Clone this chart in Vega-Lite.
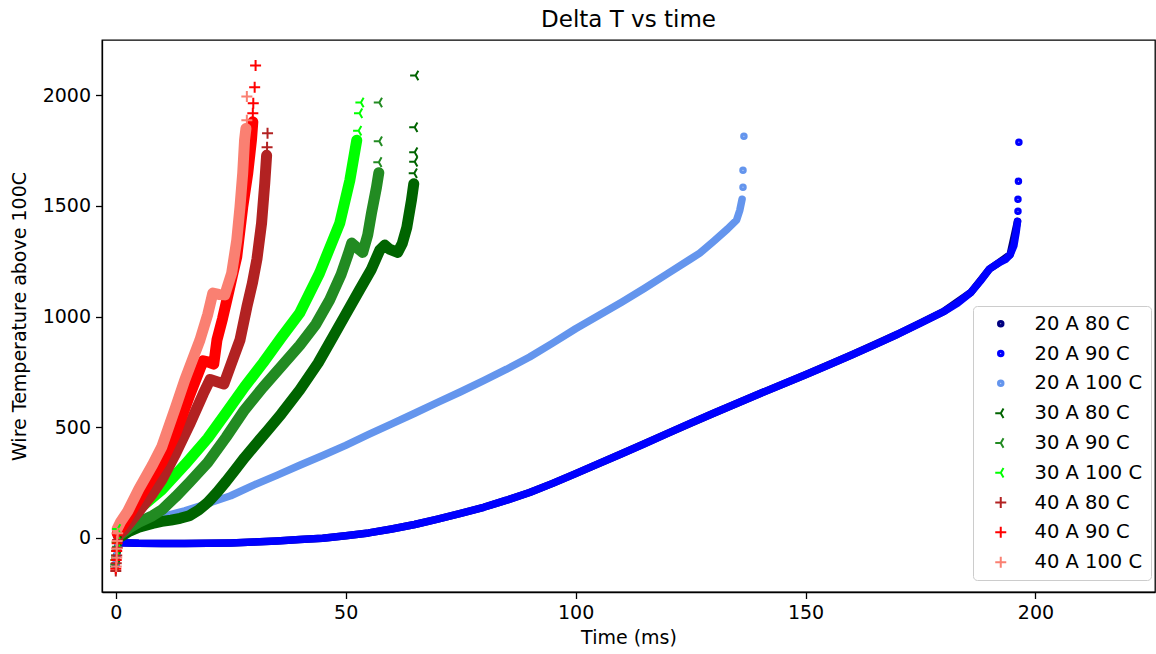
{
"$schema": "https://vega.github.io/schema/vega-lite/v6.json",
"width": 1053, "height": 552,
"autosize": {"type": "none"},
"padding": {"left": 102, "top": 40, "right": 1, "bottom": 62},
"title": {"text": "Delta T vs time", "fontSize": 23, "font": "DejaVu Sans", "fontWeight": "normal", "offset": 8, "color": "black"},
"config": {
 "view": {"stroke": "black", "strokeWidth": 1.3},
 "axis": {"labelFont": "DejaVu Sans", "labelFontSize": 19, "labelColor": "black", "titleFont": "DejaVu Sans", "titleFontSize": 19, "titleFontWeight": "normal", "titleColor": "black", "tickColor": "black", "domainColor": "black", "tickWidth": 1.3, "domainWidth": 1.3, "tickSize": 6.5, "labelPadding": 5, "grid": false},
 "axisY": {"titlePadding": 13},
 "axisX": {"titlePadding": 6},
 "legend": {"labelFont": "DejaVu Sans", "labelFontSize": 19.5, "labelColor": "black", "symbolSize": 121, "symbolStrokeWidth": 2, "rowPadding": 8.8, "padding": 8, "symbolOffset": 10, "labelOffset": 24, "strokeColor": "#cccccc", "fillColor": "white", "cornerRadius": 4}
},
"datasets": {
"body": [
{"series":"20 A 80 C","time":1,"dT":-22},{"series":"20 A 80 C","time":5,"dT":-25},{"series":"20 A 80 C","time":10,"dT":-26},{"series":"20 A 80 C","time":15,"dT":-26},{"series":"20 A 80 C","time":20,"dT":-25},{"series":"20 A 80 C","time":25,"dT":-23},{"series":"20 A 80 C","time":30,"dT":-19},{"series":"20 A 80 C","time":35,"dT":-14},{"series":"20 A 80 C","time":40,"dT":-8},{"series":"20 A 80 C","time":45,"dT":-2},{"series":"20 A 80 C","time":50,"dT":9},{"series":"20 A 80 C","time":55,"dT":22},{"series":"20 A 80 C","time":60,"dT":40},{"series":"20 A 80 C","time":65,"dT":60},{"series":"20 A 80 C","time":70,"dT":84},{"series":"20 A 80 C","time":75,"dT":110},{"series":"20 A 80 C","time":80,"dT":138},{"series":"20 A 80 C","time":85,"dT":170},{"series":"20 A 80 C","time":90,"dT":205},{"series":"20 A 80 C","time":95,"dT":246},{"series":"20 A 80 C","time":100,"dT":290},{"series":"20 A 80 C","time":110,"dT":380},{"series":"20 A 80 C","time":120,"dT":472},{"series":"20 A 80 C","time":130,"dT":563},{"series":"20 A 80 C","time":140,"dT":651},{"series":"20 A 80 C","time":150,"dT":737},{"series":"20 A 80 C","time":160,"dT":826},{"series":"20 A 80 C","time":170,"dT":920},{"series":"20 A 80 C","time":180,"dT":1022},{"series":"20 A 80 C","time":186,"dT":1110},{"series":"20 A 80 C","time":190,"dT":1215},{"series":"20 A 80 C","time":192,"dT":1243},{"series":"20 A 80 C","time":194.5,"dT":1280},{"series":"20 A 80 C","time":196.1,"dT":1430},
{"series":"20 A 90 C","time":1,"dT":-22},{"series":"20 A 90 C","time":5,"dT":-25},{"series":"20 A 90 C","time":10,"dT":-26},{"series":"20 A 90 C","time":15,"dT":-26},{"series":"20 A 90 C","time":20,"dT":-25},{"series":"20 A 90 C","time":25,"dT":-23},{"series":"20 A 90 C","time":30,"dT":-19},{"series":"20 A 90 C","time":35,"dT":-14},{"series":"20 A 90 C","time":40,"dT":-8},{"series":"20 A 90 C","time":45,"dT":-2},{"series":"20 A 90 C","time":50,"dT":9},{"series":"20 A 90 C","time":55,"dT":22},{"series":"20 A 90 C","time":60,"dT":40},{"series":"20 A 90 C","time":65,"dT":60},{"series":"20 A 90 C","time":70,"dT":84},{"series":"20 A 90 C","time":75,"dT":110},{"series":"20 A 90 C","time":80,"dT":138},{"series":"20 A 90 C","time":85,"dT":170},{"series":"20 A 90 C","time":90,"dT":205},{"series":"20 A 90 C","time":95,"dT":246},{"series":"20 A 90 C","time":100,"dT":290},{"series":"20 A 90 C","time":105,"dT":335},{"series":"20 A 90 C","time":110,"dT":380},{"series":"20 A 90 C","time":115,"dT":425},{"series":"20 A 90 C","time":120,"dT":472},{"series":"20 A 90 C","time":125,"dT":518},{"series":"20 A 90 C","time":130,"dT":563},{"series":"20 A 90 C","time":135,"dT":607},{"series":"20 A 90 C","time":140,"dT":651},{"series":"20 A 90 C","time":145,"dT":694},{"series":"20 A 90 C","time":150,"dT":737},{"series":"20 A 90 C","time":155,"dT":781},{"series":"20 A 90 C","time":160,"dT":826},{"series":"20 A 90 C","time":165,"dT":872},{"series":"20 A 90 C","time":170,"dT":920},{"series":"20 A 90 C","time":175,"dT":970},{"series":"20 A 90 C","time":180,"dT":1022},{"series":"20 A 90 C","time":183,"dT":1060},{"series":"20 A 90 C","time":186,"dT":1110},{"series":"20 A 90 C","time":188,"dT":1160},{"series":"20 A 90 C","time":190,"dT":1215},{"series":"20 A 90 C","time":192,"dT":1243},{"series":"20 A 90 C","time":193.5,"dT":1258},{"series":"20 A 90 C","time":194.5,"dT":1280},{"series":"20 A 90 C","time":195.3,"dT":1320},{"series":"20 A 90 C","time":195.8,"dT":1380},{"series":"20 A 90 C","time":196.1,"dT":1430},
{"series":"20 A 100 C","time":1,"dT":10},{"series":"20 A 100 C","time":3,"dT":40},{"series":"20 A 100 C","time":5,"dT":62},{"series":"20 A 100 C","time":10,"dT":95},{"series":"20 A 100 C","time":15,"dT":122},{"series":"20 A 100 C","time":20,"dT":155},{"series":"20 A 100 C","time":25,"dT":190},{"series":"20 A 100 C","time":30,"dT":238},{"series":"20 A 100 C","time":35,"dT":282},{"series":"20 A 100 C","time":40,"dT":328},{"series":"20 A 100 C","time":45,"dT":372},{"series":"20 A 100 C","time":50,"dT":418},{"series":"20 A 100 C","time":55,"dT":467},{"series":"20 A 100 C","time":60,"dT":515},{"series":"20 A 100 C","time":65,"dT":563},{"series":"20 A 100 C","time":70,"dT":612},{"series":"20 A 100 C","time":75,"dT":660},{"series":"20 A 100 C","time":80,"dT":710},{"series":"20 A 100 C","time":85,"dT":762},{"series":"20 A 100 C","time":90,"dT":817},{"series":"20 A 100 C","time":95,"dT":880},{"series":"20 A 100 C","time":100,"dT":945},{"series":"20 A 100 C","time":105,"dT":1005},{"series":"20 A 100 C","time":110,"dT":1065},{"series":"20 A 100 C","time":115,"dT":1128},{"series":"20 A 100 C","time":120,"dT":1194},{"series":"20 A 100 C","time":125,"dT":1260},{"series":"20 A 100 C","time":127,"dT":1287},{"series":"20 A 100 C","time":130,"dT":1340},{"series":"20 A 100 C","time":133,"dT":1395},{"series":"20 A 100 C","time":135,"dT":1436},{"series":"20 A 100 C","time":135.7,"dT":1480},{"series":"20 A 100 C","time":136.2,"dT":1530},
{"series":"30 A 80 C","time":1,"dT":5},{"series":"30 A 80 C","time":3,"dT":30},{"series":"30 A 80 C","time":5,"dT":48},{"series":"30 A 80 C","time":8,"dT":65},{"series":"30 A 80 C","time":10,"dT":74},{"series":"30 A 80 C","time":12,"dT":80},{"series":"30 A 80 C","time":14,"dT":88},{"series":"30 A 80 C","time":16,"dT":100},{"series":"30 A 80 C","time":18,"dT":125},{"series":"30 A 80 C","time":20,"dT":160},{"series":"30 A 80 C","time":22,"dT":205},{"series":"30 A 80 C","time":24,"dT":255},{"series":"30 A 80 C","time":26,"dT":308},{"series":"30 A 80 C","time":28,"dT":362},{"series":"30 A 80 C","time":30,"dT":412},{"series":"30 A 80 C","time":33,"dT":485},{"series":"30 A 80 C","time":36,"dT":560},{"series":"30 A 80 C","time":40,"dT":668},{"series":"30 A 80 C","time":44,"dT":790},{"series":"30 A 80 C","time":47,"dT":900},{"series":"30 A 80 C","time":50,"dT":1010},{"series":"30 A 80 C","time":53,"dT":1120},{"series":"30 A 80 C","time":55.5,"dT":1210},{"series":"30 A 80 C","time":57.4,"dT":1300},{"series":"30 A 80 C","time":58.5,"dT":1323},{"series":"30 A 80 C","time":59.5,"dT":1305},{"series":"30 A 80 C","time":61.3,"dT":1290},{"series":"30 A 80 C","time":62.3,"dT":1330},{"series":"30 A 80 C","time":63.3,"dT":1404},{"series":"30 A 80 C","time":64.3,"dT":1526},{"series":"30 A 80 C","time":64.8,"dT":1600},
{"series":"30 A 90 C","time":1,"dT":15},{"series":"30 A 90 C","time":3,"dT":45},{"series":"30 A 90 C","time":5,"dT":70},{"series":"30 A 90 C","time":8,"dT":100},{"series":"30 A 90 C","time":10,"dT":126},{"series":"30 A 90 C","time":13,"dT":185},{"series":"30 A 90 C","time":16,"dT":250},{"series":"30 A 90 C","time":20,"dT":340},{"series":"30 A 90 C","time":24,"dT":455},{"series":"30 A 90 C","time":28,"dT":578},{"series":"30 A 90 C","time":32,"dT":680},{"series":"30 A 90 C","time":36,"dT":775},{"series":"30 A 90 C","time":40,"dT":870},{"series":"30 A 90 C","time":43.5,"dT":965},{"series":"30 A 90 C","time":46.5,"dT":1075},{"series":"30 A 90 C","time":49,"dT":1190},{"series":"30 A 90 C","time":50.5,"dT":1280},{"series":"30 A 90 C","time":51.3,"dT":1332},{"series":"30 A 90 C","time":52.5,"dT":1310},{"series":"30 A 90 C","time":53.7,"dT":1290},{"series":"30 A 90 C","time":54.8,"dT":1370},{"series":"30 A 90 C","time":55.6,"dT":1467},{"series":"30 A 90 C","time":56.7,"dT":1585},{"series":"30 A 90 C","time":57.2,"dT":1650},
{"series":"30 A 100 C","time":0.5,"dT":20},{"series":"30 A 100 C","time":2,"dT":60},{"series":"30 A 100 C","time":5.6,"dT":140},{"series":"30 A 100 C","time":10,"dT":217},{"series":"30 A 100 C","time":15,"dT":330},{"series":"30 A 100 C","time":20,"dT":450},{"series":"30 A 100 C","time":24,"dT":565},{"series":"30 A 100 C","time":28,"dT":682},{"series":"30 A 100 C","time":32,"dT":790},{"series":"30 A 100 C","time":36,"dT":905},{"series":"30 A 100 C","time":40,"dT":1016},{"series":"30 A 100 C","time":44.3,"dT":1196},{"series":"30 A 100 C","time":48.7,"dT":1422},{"series":"30 A 100 C","time":50.9,"dT":1616},{"series":"30 A 100 C","time":52.4,"dT":1797},
{"series":"40 A 80 C","time":0.5,"dT":10},{"series":"40 A 80 C","time":2,"dT":40},{"series":"40 A 80 C","time":5,"dT":120},{"series":"40 A 80 C","time":8,"dT":200},{"series":"40 A 80 C","time":10,"dT":262},{"series":"40 A 80 C","time":13,"dT":380},{"series":"40 A 80 C","time":16,"dT":510},{"series":"40 A 80 C","time":19,"dT":650},{"series":"40 A 80 C","time":20.5,"dT":715},{"series":"40 A 80 C","time":22,"dT":705},{"series":"40 A 80 C","time":23.5,"dT":695},{"series":"40 A 80 C","time":25,"dT":780},{"series":"40 A 80 C","time":27,"dT":894},{"series":"40 A 80 C","time":28.5,"dT":1043},{"series":"40 A 80 C","time":29.7,"dT":1150},{"series":"40 A 80 C","time":30.7,"dT":1260},{"series":"40 A 80 C","time":31.7,"dT":1422},{"series":"40 A 80 C","time":32.4,"dT":1603},{"series":"40 A 80 C","time":32.8,"dT":1729},
{"series":"40 A 90 C","time":0.3,"dT":20},{"series":"40 A 90 C","time":2,"dT":70},{"series":"40 A 90 C","time":5,"dT":175},{"series":"40 A 90 C","time":8,"dT":275},{"series":"40 A 90 C","time":10,"dT":339},{"series":"40 A 90 C","time":13,"dT":470},{"series":"40 A 90 C","time":16,"dT":640},{"series":"40 A 90 C","time":19,"dT":800},{"series":"40 A 90 C","time":20,"dT":795},{"series":"40 A 90 C","time":21.3,"dT":785},{"series":"40 A 90 C","time":22,"dT":894},{"series":"40 A 90 C","time":23.2,"dT":990},{"series":"40 A 90 C","time":24.3,"dT":1088},{"series":"40 A 90 C","time":25.3,"dT":1180},{"series":"40 A 90 C","time":26.3,"dT":1269},{"series":"40 A 90 C","time":27.6,"dT":1494},{"series":"40 A 90 C","time":28.7,"dT":1648},{"series":"40 A 90 C","time":29.5,"dT":1797},{"series":"40 A 90 C","time":29.8,"dT":1880},
{"series":"40 A 100 C","time":0.3,"dT":40},{"series":"40 A 100 C","time":1,"dT":70},{"series":"40 A 100 C","time":2.6,"dT":120},{"series":"40 A 100 C","time":5,"dT":220},{"series":"40 A 100 C","time":8,"dT":330},{"series":"40 A 100 C","time":10,"dT":411},{"series":"40 A 100 C","time":13,"dT":590},{"series":"40 A 100 C","time":15,"dT":713},{"series":"40 A 100 C","time":18.3,"dT":894},{"series":"40 A 100 C","time":20,"dT":1010},{"series":"40 A 100 C","time":21.1,"dT":1106},{"series":"40 A 100 C","time":22.4,"dT":1100},{"series":"40 A 100 C","time":23.7,"dT":1098},{"series":"40 A 100 C","time":25.2,"dT":1196},{"series":"40 A 100 C","time":26.3,"dT":1345},{"series":"40 A 100 C","time":27,"dT":1494},{"series":"40 A 100 C","time":27.6,"dT":1648},{"series":"40 A 100 C","time":28,"dT":1797},{"series":"40 A 100 C","time":28.3,"dT":1850}
],
"tips": [
{"series":"20 A 80 C","time":0,"dT":-120},{"series":"20 A 80 C","time":0.2,"dT":-80},{"series":"20 A 80 C","time":0.4,"dT":-40},
{"series":"20 A 90 C","time":0,"dT":-125},{"series":"20 A 90 C","time":0.2,"dT":-85},{"series":"20 A 90 C","time":0.4,"dT":-45},{"series":"20 A 90 C","time":0.6,"dT":-20},
{"series":"20 A 90 C","time":196.2,"dT":1476},{"series":"20 A 90 C","time":196.2,"dT":1530},{"series":"20 A 90 C","time":196.3,"dT":1612},{"series":"20 A 90 C","time":196.4,"dT":1788},
{"series":"20 A 100 C","time":0.1,"dT":-110},{"series":"20 A 100 C","time":0.3,"dT":-70},{"series":"20 A 100 C","time":0.5,"dT":-30},
{"series":"20 A 100 C","time":136.4,"dT":1585},{"series":"20 A 100 C","time":136.4,"dT":1661},{"series":"20 A 100 C","time":136.6,"dT":1815},
{"series":"30 A 80 C","time":0,"dT":-130},{"series":"30 A 80 C","time":0.2,"dT":-90},{"series":"30 A 80 C","time":0.4,"dT":-50},{"series":"30 A 80 C","time":0.6,"dT":-15},
{"series":"30 A 80 C","time":64.9,"dT":1648},{"series":"30 A 80 C","time":65,"dT":1700},{"series":"30 A 80 C","time":65,"dT":1743},{"series":"30 A 80 C","time":65,"dT":1856},{"series":"30 A 80 C","time":65.2,"dT":2090},
{"series":"30 A 90 C","time":0,"dT":-120},{"series":"30 A 90 C","time":0.2,"dT":-80},{"series":"30 A 90 C","time":0.4,"dT":-40},
{"series":"30 A 90 C","time":57.2,"dT":1698},{"series":"30 A 90 C","time":57.3,"dT":1792},{"series":"30 A 90 C","time":57.3,"dT":1968},
{"series":"30 A 100 C","time":0,"dT":-100},{"series":"30 A 100 C","time":0.2,"dT":-60},{"series":"30 A 100 C","time":0.3,"dT":-20},{"series":"30 A 100 C","time":0.4,"dT":40},
{"series":"30 A 100 C","time":52.8,"dT":1840},{"series":"30 A 100 C","time":53,"dT":1919},{"series":"30 A 100 C","time":53.3,"dT":1968},
{"series":"40 A 80 C","time":0,"dT":-150},{"series":"40 A 80 C","time":0.1,"dT":-115},{"series":"40 A 80 C","time":0.2,"dT":-80},{"series":"40 A 80 C","time":0.3,"dT":-45},{"series":"40 A 80 C","time":0.4,"dT":-10},
{"series":"40 A 80 C","time":32.9,"dT":1765},{"series":"40 A 80 C","time":33,"dT":1828},
{"series":"40 A 90 C","time":0,"dT":-140},{"series":"40 A 90 C","time":0.1,"dT":-100},{"series":"40 A 90 C","time":0.2,"dT":-60},{"series":"40 A 90 C","time":0.3,"dT":-25},
{"series":"40 A 90 C","time":29.8,"dT":1919},{"series":"40 A 90 C","time":29.9,"dT":1964},{"series":"40 A 90 C","time":30.2,"dT":2036},{"series":"40 A 90 C","time":30.4,"dT":2135},
{"series":"40 A 100 C","time":0.1,"dT":-130},{"series":"40 A 100 C","time":0.2,"dT":-90},{"series":"40 A 100 C","time":0.2,"dT":-50},{"series":"40 A 100 C","time":0.3,"dT":-15},{"series":"40 A 100 C","time":0.4,"dT":20},
{"series":"40 A 100 C","time":28.5,"dT":1887},{"series":"40 A 100 C","time":28.5,"dT":1995}
]
},
"encoding": {
 "x": {"field": "time", "type": "quantitative", "scale": {"domain": [-3, 226], "nice": false, "zero": false}, "axis": {"values": [0, 50, 100, 150, 200], "format": "d", "title": "Time (ms)"}},
 "y": {"field": "dT", "type": "quantitative", "scale": {"domain": [-245, 2250], "nice": false, "zero": false}, "axis": {"values": [0, 500, 1000, 1500, 2000], "format": "d", "title": "Wire Temperature above 100C"}},
 "color": {"field": "series", "type": "nominal", "scale": {"domain": ["20 A 80 C","20 A 90 C","20 A 100 C","30 A 80 C","30 A 90 C","30 A 100 C","40 A 80 C","40 A 90 C","40 A 100 C"], "range": ["#000080","#0000ff","#6495ed","#006400","#228b22","#00ff00","#b22222","#ff0000","#fa8072"]}, "legend": {"title": null, "orient": "none", "legendX": 871, "legendY": 266}}
},
"layer": [
 {"data": {"name": "body"},
  "transform": [{"filter": {"field": "series", "oneOf": ["20 A 80 C", "20 A 90 C", "20 A 100 C"]}}],
  "mark": {"type": "line", "strokeWidth": 7.5, "strokeCap": "round", "strokeJoin": "round"}},
 {"data": {"name": "body"},
  "transform": [{"filter": {"field": "series", "oneOf": ["30 A 80 C","30 A 90 C","30 A 100 C","40 A 80 C","40 A 90 C","40 A 100 C"]}}],
  "mark": {"type": "line", "strokeWidth": 11, "strokeCap": "round", "strokeJoin": "round"}},
 {"data": {"name": "tips"},
  "mark": {"type": "point", "filled": false, "size": 121, "strokeWidth": 2, "opacity": 1},
  "encoding": {
   "shape": {"field": "series", "type": "nominal", "scale": {"domain": ["20 A 80 C","20 A 90 C","20 A 100 C","30 A 80 C","30 A 90 C","30 A 100 C","40 A 80 C","40 A 90 C","40 A 100 C"], "range": ["M-0.5,0A0.5,0.5,0,1,1,0.5,0A0.5,0.5,0,1,1,-0.5,0M-0.27,0A0.27,0.27,0,1,1,0.27,0A0.27,0.27,0,1,1,-0.27,0M-0.06,0A0.06,0.06,0,1,1,0.06,0A0.06,0.06,0,1,1,-0.06,0","M-0.5,0A0.5,0.5,0,1,1,0.5,0A0.5,0.5,0,1,1,-0.5,0M-0.27,0A0.27,0.27,0,1,1,0.27,0A0.27,0.27,0,1,1,-0.27,0M-0.06,0A0.06,0.06,0,1,1,0.06,0A0.06,0.06,0,1,1,-0.06,0","M-0.5,0A0.5,0.5,0,1,1,0.5,0A0.5,0.5,0,1,1,-0.5,0M-0.27,0A0.27,0.27,0,1,1,0.27,0A0.27,0.27,0,1,1,-0.27,0M-0.06,0A0.06,0.06,0,1,1,0.06,0A0.06,0.06,0,1,1,-0.06,0","M0,0L-1,0M0,0L0.5,-0.866M0,0L0.5,0.866","M0,0L-1,0M0,0L0.5,-0.866M0,0L0.5,0.866","M0,0L-1,0M0,0L0.5,-0.866M0,0L0.5,0.866","M-1,0L1,0M0,-1L0,1","M-1,0L1,0M0,-1L0,1","M-1,0L1,0M0,-1L0,1"]},
     "legend": {"title": null, "orient": "none", "legendX": 871, "legendY": 266}}
  }}
]
}
